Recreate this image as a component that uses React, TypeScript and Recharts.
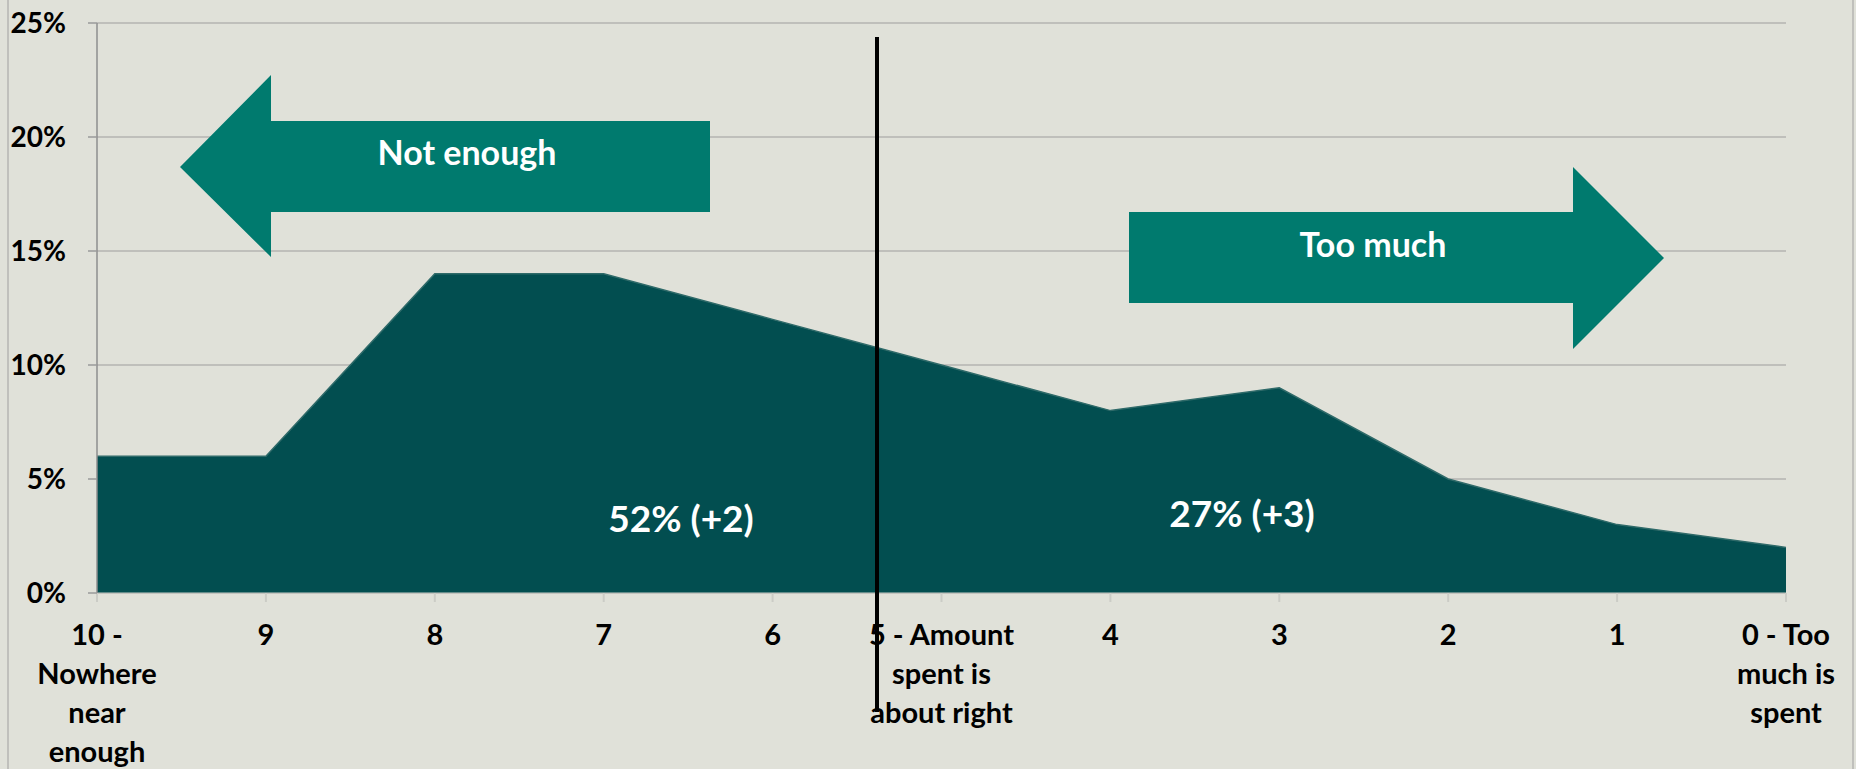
import React from "react";
import { AreaChart, Area, XAxis, YAxis, CartesianGrid } from "recharts";

const categories = ["10", "9", "8", "7", "6", "5", "4", "3", "2", "1", "0"];
const shares = [0.06, 0.06, 0.14, 0.14, 0.12, 0.1, 0.08, 0.09, 0.05, 0.03, 0.02];
const tickLines: Record<string, string[]> = {
  "10": ["10 -", "Nowhere", "near", "enough"],
  "5": ["5 - Amount", "spent is", "about right"],
  "0": ["0 - Too", "much is", "spent"],
};
const yTicks = [0, 0.05, 0.1, 0.15, 0.2, 0.25];

const chartData = categories.map((c, i) => ({ score: c, share: shares[i] }));

const BG = "#e0e1d9";
const FONT = "Lato, 'Open Sans', sans-serif";

function ScoreTick(props: any) {
  const { x, y, payload } = props;
  const lines = tickLines[payload.value] ?? [payload.value];
  return (
    <text x={x} y={y} textAnchor="middle" fontFamily={FONT} fontWeight={700} fontSize={29} fill="#000">
      {lines.map((l, i) => (
        <tspan key={i} x={x} y={y + 43 + i * 39}>
          {l}
        </tspan>
      ))}
    </text>
  );
}

export default function App() {
  return (
    <div style={{ position: "absolute", left: 0, top: 0, width: 1856, height: 769, background: BG, overflow: "hidden" }}>
      <AreaChart width={1856} height={769} data={chartData} margin={{ top: 23, right: 70, left: 0, bottom: 0 }}>
        <CartesianGrid vertical={false} stroke="#bfbfbb" strokeWidth={2} />
        <XAxis
          dataKey="score"
          height={176}
          interval={0}
          tick={<ScoreTick />}
          tickSize={9}
          tickMargin={0}
          axisLine={{ stroke: "#c9cac4" }}
          tickLine={{ stroke: "#cbccc6", strokeWidth: 2 }}
        />
        <YAxis
          width={97}
          domain={[0, 0.25]}
          ticks={yTicks}
          tickFormatter={(v: number) => `${Math.round(v * 100)}%`}
          tickSize={9}
          tickMargin={22}
          axisLine={{ stroke: "#8e8e8e", strokeWidth: 1.5 }}
          tickLine={{ stroke: "#9a9a9a", strokeWidth: 1.5 }}
          tick={{ fontFamily: FONT, fontWeight: 700, fontSize: 28, fill: "#000" }}
        />
        <Area
          type="linear"
          dataKey="share"
          fill="#024e50"
          fillOpacity={1}
          stroke="#2f6a69"
          strokeWidth={1.5}
          isAnimationActive={false}
        />
      </AreaChart>
      <svg width={1856} height={769} style={{ position: "absolute", left: 0, top: 0, pointerEvents: "none" }}>
        <line x1={8} y1={0} x2={8} y2={769} stroke="#c0c0bc" strokeWidth={2} />
        <line x1={1853} y1={0} x2={1853} y2={769} stroke="#c0c0bc" strokeWidth={2} />
        <polygon points="180,167 271,75 271,121 710,121 710,212 271,212 271,257" fill="#007a6e" />
        <polygon points="1129,212 1573,212 1573,167 1664,258 1573,349 1573,303 1129,303" fill="#007a6e" />
        <text x={467} y={165} textAnchor="middle" fontFamily={FONT} fontWeight={700} fontSize={34} fill="#fff">
          Not enough
        </text>
        <text x={1373} y={257} textAnchor="middle" fontFamily={FONT} fontWeight={700} fontSize={34} fill="#fff">
          Too much
        </text>
        <text x={681} y={532} textAnchor="middle" fontFamily={FONT} fontWeight={700} fontSize={37} fill="#fff">
          52% (+2)
        </text>
        <text x={1242} y={527} textAnchor="middle" fontFamily={FONT} fontWeight={700} fontSize={37} fill="#fff">
          27% (+3)
        </text>
        <line x1={877} y1={37} x2={877} y2={712} stroke="#000" strokeWidth={4} />
      </svg>
    </div>
  );
}
